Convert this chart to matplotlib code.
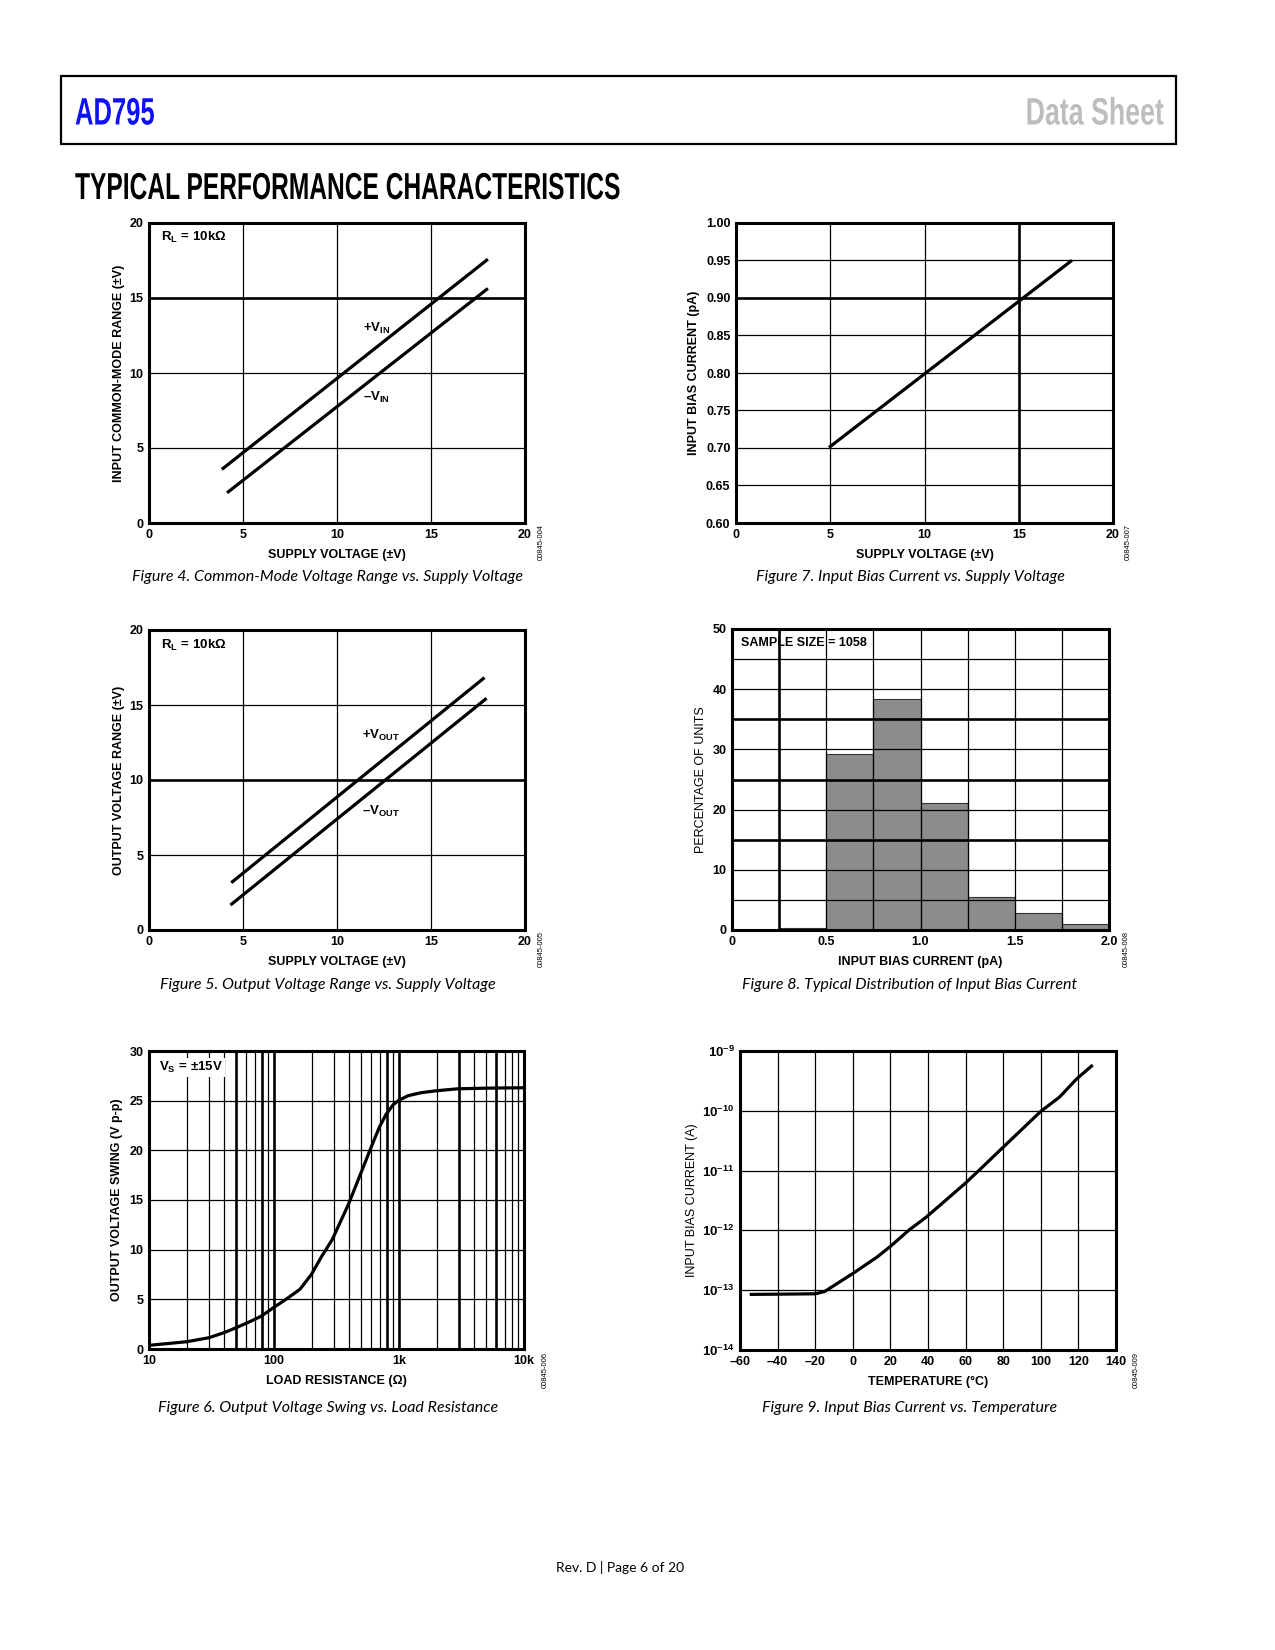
import numpy as np
import matplotlib
matplotlib.use("Agg")
import matplotlib.pyplot as plt
from matplotlib.patheffects import AbstractPathEffect
from matplotlib.transforms import Affine2D
from matplotlib.patches import Rectangle
from matplotlib.ticker import NullLocator

# ---------------- data ----------------
# Figure 4: common-mode range vs supply
f4_plus_x = [3.94, 17.96]
f4_plus_y = [3.64, 17.52]
f4_minus_x = [4.22, 17.96]
f4_minus_y = [2.08, 15.57]
# Figure 5: output voltage range vs supply
f5_plus_x = [4.44, 17.78]
f5_plus_y = [3.22, 16.76]
f5_minus_x = [4.40, 17.89]
f5_minus_y = [1.73, 15.38]
# Figure 6: output swing vs load resistance
f6_r = [10, 20, 30, 40, 51, 64, 79, 100, 123, 161, 199, 240, 292, 392, 510, 585, 695, 786, 899, 1000, 1184, 1500, 1996, 2978, 5808, 10000]
f6_v = [0.37, 0.73, 1.13, 1.65, 2.2, 2.75, 3.3, 4.2, 4.95, 6.0, 7.5, 9.3, 11.0, 14.5, 18.1, 20.0, 22.3, 23.6, 24.6, 25.05, 25.5, 25.8, 26.0, 26.2, 26.27, 26.3]
# Figure 7: input bias current vs supply
f7_x = [5.0, 17.76]
f7_y = [0.702, 0.949]
# Figure 8: histogram of input bias current
f8_left = [0.0, 0.25, 0.5, 0.75, 1.0, 1.25, 1.5, 1.75]
f8_pct = [0.0, 0.4, 29.3, 38.4, 21.1, 5.4, 2.8, 1.0]
# Figure 9: input bias current vs temperature
f9_t = [-54, -20, -15, 0, 13, 20, 30, 39, 60, 67, 79, 100, 110, 119, 127]
f9_i = [8.5e-14, 8.7e-14, 9.5e-14, 1.9e-13, 3.6e-13, 5.4e-13, 1.02e-12, 1.66e-12,
        6.2e-12, 1.0e-11, 2.3e-11, 9.8e-11, 1.7e-10, 3.4e-10, 5.6e-10]

# ---------------- style ----------------
W, H = 1275, 1650
plt.rcParams['font.family'] = ['Liberation Sans', 'DejaVu Sans']
plt.rcParams['mathtext.fontset'] = 'custom'
plt.rcParams['mathtext.rm'] = 'Liberation Sans'
plt.rcParams['mathtext.bf'] = 'Liberation Sans:bold'
plt.rcParams['mathtext.it'] = 'Liberation Sans:italic'
plt.rcParams['mathtext.default'] = 'bf'

THIN = 0.9
THICK = 1.9
FRAME = 2.2
DATA = 2.3
TICKFS = 9
LABFS = 9
ANNFS = 9.5
CAPFONT = ['Lato', 'DejaVu Sans']


class Condense(AbstractPathEffect):
    def __init__(self, sx, x0):
        super().__init__()
        self.sx = sx
        self.x0 = x0

    def draw_path(self, renderer, gc, tpath, affine, rgbFace=None):
        t = affine + Affine2D().translate(-self.x0, 0).scale(self.sx, 1).translate(self.x0, 0)
        renderer.draw_path(gc, tpath, t, rgbFace)


fig = plt.figure(figsize=(W / 100, H / 100), dpi=100)


def fx(x):
    return x / W


def fy(y):
    return 1 - y / H


def add_ax(x0, y0, x1, y1):
    ax = fig.add_axes([x0 / W, 1 - y1 / H, (x1 - x0) / W, (y1 - y0) / H])
    for s in ax.spines.values():
        s.set_linewidth(FRAME)
        s.set_zorder(5)
    ax.tick_params(length=0, pad=4, labelsize=TICKFS)
    return ax


def bold_ticks(ax):
    for lab in ax.get_xticklabels() + ax.get_yticklabels():
        lab.set_fontweight('bold')


def vgrid(ax, xs, thick=()):
    for x in xs:
        ax.axvline(x, color='black', lw=THICK if x in thick else THIN, zorder=3)


def hgrid(ax, ys, thick=()):
    for y in ys:
        ax.axhline(y, color='black', lw=THICK if y in thick else THIN, zorder=3)


def caption(xc, yc, s):
    fig.text(fx(xc), fy(yc), s, ha='center', va='center', fontsize=11.5,
             style='italic', family=CAPFONT)


def code(xc, ytop, s):
    fig.text(fx(xc), fy(ytop), s, rotation=90, ha='center', va='top', fontsize=5.5)


# ---------------- header ----------------
fig.add_artist(Rectangle((fx(61), fy(144)), fx(1176) - fx(61), fy(76) - fy(144),
                         transform=fig.transFigure, fill=False, lw=1.6, ec='black'))
fig.text(fx(75), fy(124.5), 'AD795', color='#1010F5', fontsize=27.5, fontweight='bold',
         ha='left', va='baseline', path_effects=[Condense(0.67, 75)])
fig.text(fx(1164), fy(124.5), 'Data Sheet', color='#BDBDBD', fontsize=27.5, fontweight='bold',
         ha='right', va='baseline', path_effects=[Condense(0.70, 1164)])
fig.text(fx(75), fy(199), 'TYPICAL PERFORMANCE CHARACTERISTICS', color='black', fontsize=27,
         fontweight='bold', ha='left', va='baseline', path_effects=[Condense(0.655, 75)])

RL_TEXT = '$R_L\\,=\\,10k\\Omega$'
VS_TEXT = '$V_S\\,=\\,{\\pm}15V$'

# ---------------- Figure 4 ----------------
ax = add_ax(149, 223, 525, 523)
ax.set_xlim(0, 20)
ax.set_ylim(0, 20)
ax.set_xticks([0, 5, 10, 15, 20])
ax.set_yticks([0, 5, 10, 15, 20])
vgrid(ax, [5, 10, 15])
hgrid(ax, [5, 10, 15], thick=(15,))
ax.plot(f4_plus_x, f4_plus_y, color='black', lw=DATA, zorder=4)
ax.plot(f4_minus_x, f4_minus_y, color='black', lw=DATA, zorder=4)
ax.text(11.4, 12.97, '${+}V_{IN}$', fontsize=ANNFS, ha='left', va='center', zorder=6)
ax.text(11.4, 8.38, '$\u2013V_{IN}$', fontsize=ANNFS, ha='left', va='center', zorder=6)
ax.text(0.033, 0.951, RL_TEXT, transform=ax.transAxes, fontsize=ANNFS,
        ha='left', va='center', zorder=6)
ax.set_xlabel('SUPPLY VOLTAGE (\u00b1V)', fontsize=LABFS, fontweight='bold', labelpad=6)
ax.set_ylabel('INPUT COMMON-MODE RANGE (\u00b1V)', fontsize=LABFS, fontweight='bold', labelpad=3)
bold_ticks(ax)
code(541, 524, '00845-004')
caption(328, 577, 'Figure 4. Common-Mode Voltage Range vs. Supply Voltage')

# ---------------- Figure 7 ----------------
ax = add_ax(736, 223, 1113, 523)
ax.set_xlim(0, 20)
ax.set_ylim(0.60, 1.00)
ax.set_xticks([0, 5, 10, 15, 20])
ax.set_yticks([0.60, 0.65, 0.70, 0.75, 0.80, 0.85, 0.90, 0.95, 1.00])
ax.set_yticklabels(['0.60', '0.65', '0.70', '0.75', '0.80', '0.85', '0.90', '0.95', '1.00'])
vgrid(ax, [5, 10, 15], thick=(15,))
hgrid(ax, [0.65, 0.70, 0.75, 0.80, 0.85, 0.90, 0.95], thick=(0.90,))
ax.plot(f7_x, f7_y, color='black', lw=DATA, zorder=4)
ax.set_xlabel('SUPPLY VOLTAGE (\u00b1V)', fontsize=LABFS, fontweight='bold', labelpad=6)
ax.set_ylabel('INPUT BIAS CURRENT (pA)', fontsize=LABFS, fontweight='bold', labelpad=4)
bold_ticks(ax)
code(1128, 524, '00845-007')
caption(910, 577, 'Figure 7. Input Bias Current vs. Supply Voltage')

# ---------------- Figure 5 ----------------
ax = add_ax(149, 630, 525, 930)
ax.set_xlim(0, 20)
ax.set_ylim(0, 20)
ax.set_xticks([0, 5, 10, 15, 20])
ax.set_yticks([0, 5, 10, 15, 20])
vgrid(ax, [5, 10, 15])
hgrid(ax, [5, 10, 15], thick=(10,))
ax.plot(f5_plus_x, f5_plus_y, color='black', lw=DATA, zorder=4)
ax.plot(f5_minus_x, f5_minus_y, color='black', lw=DATA, zorder=4)
ax.text(11.32, 12.96, '${+}V_{OUT}$', fontsize=ANNFS, ha='left', va='center', zorder=6)
ax.text(11.32, 7.89, '$\u2013V_{OUT}$', fontsize=ANNFS, ha='left', va='center', zorder=6)
ax.text(0.033, 0.95, RL_TEXT, transform=ax.transAxes, fontsize=ANNFS,
        ha='left', va='center', zorder=6)
ax.set_xlabel('SUPPLY VOLTAGE (\u00b1V)', fontsize=LABFS, fontweight='bold', labelpad=6)
ax.set_ylabel('OUTPUT VOLTAGE RANGE (\u00b1V)', fontsize=LABFS, fontweight='bold', labelpad=3)
bold_ticks(ax)
code(541, 931, '00845-005')
caption(328, 985, 'Figure 5. Output Voltage Range vs. Supply Voltage')

# ---------------- Figure 8 ----------------
ax = add_ax(732, 629, 1109, 930)
ax.set_xlim(0, 2.0)
ax.set_ylim(0, 50)
ax.set_xticks([0, 0.5, 1.0, 1.5, 2.0])
ax.set_xticklabels(['0', '0.5', '1.0', '1.5', '2.0'])
ax.set_yticks([0, 10, 20, 30, 40, 50])
ax.bar(f8_left, f8_pct, width=0.25, align='edge', color='#8C8C8C', edgecolor='#333333',
       lw=0.8, zorder=2)
vgrid(ax, [0.25, 0.5, 0.75, 1.0, 1.25, 1.5, 1.75], thick=(0.25,))
hgrid(ax, [5, 10, 15, 20, 25, 30, 35, 40, 45], thick=(15, 25, 35))
ax.text(0.024, 0.953, 'SAMPLE SIZE = 1058', transform=ax.transAxes, fontsize=9,
        fontweight='bold', ha='left', va='center', zorder=6)
ax.set_xlabel('INPUT BIAS CURRENT (pA)', fontsize=LABFS, fontweight='bold', labelpad=6)
ax.set_ylabel('PERCENTAGE OF UNITS', fontsize=LABFS, labelpad=4)
bold_ticks(ax)
code(1126, 931, '00845-008')
caption(910, 985, 'Figure 8. Typical Distribution of Input Bias Current')

# ---------------- Figure 6 ----------------
ax = add_ax(149, 1051, 524, 1349)
ax.set_xscale('log')
ax.set_xlim(10, 10000)
ax.set_ylim(0, 30)
ax.set_xticks([10, 100, 1000, 10000])
ax.set_xticklabels(['10', '100', '1k', '10k'])
ax.xaxis.set_minor_locator(NullLocator())
ax.set_yticks([0, 5, 10, 15, 20, 25, 30])
f6_grid = [k * d for d in (10, 100, 1000) for k in range(2, 10)] + [100, 1000]
vgrid(ax, f6_grid, thick=(50, 80, 100, 800, 1000, 3000, 6000))
hgrid(ax, [5, 10, 15, 20, 25])
ax.plot(f6_r, f6_v, color='black', lw=DATA, zorder=4, solid_joinstyle='round')
ax.text(0.026, 0.946, VS_TEXT, transform=ax.transAxes, fontsize=ANNFS,
        ha='left', va='center', zorder=6,
        bbox=dict(boxstyle='square,pad=0.15', fc='white', ec='none'))
ax.set_xlabel('LOAD RESISTANCE (\u03a9)', fontsize=LABFS, fontweight='bold', labelpad=6)
ax.set_ylabel('OUTPUT VOLTAGE SWING (V p-p)', fontsize=LABFS, fontweight='bold', labelpad=5)
bold_ticks(ax)
code(545, 1352, '00845-006')
caption(328, 1408, 'Figure 6. Output Voltage Swing vs. Load Resistance')

# ---------------- Figure 9 ----------------
ax = add_ax(740, 1051, 1116, 1350)
ax.set_yscale('log')
ax.set_xlim(-60, 140)
ax.set_ylim(1e-14, 1e-9)
ax.set_xticks(list(range(-60, 141, 20)))
ax.set_xticklabels([('\u2013' + str(-v)) if v < 0 else str(v) for v in range(-60, 141, 20)])
ax.set_yticks([1e-14, 1e-13, 1e-12, 1e-11, 1e-10, 1e-9])
ax.set_yticklabels(['$10^{\u2013%d}$' % e for e in (14, 13, 12, 11, 10, 9)])
ax.yaxis.set_minor_locator(NullLocator())
vgrid(ax, list(range(-40, 121, 20)))
hgrid(ax, [1e-13, 1e-12, 1e-11, 1e-10])
ax.plot(f9_t, f9_i, color='black', lw=DATA, zorder=4, solid_joinstyle='round')
ax.set_xlabel('TEMPERATURE (\u00b0C)', fontsize=LABFS, fontweight='bold', labelpad=6)
ax.set_ylabel('INPUT BIAS CURRENT (A)', fontsize=LABFS, labelpad=3)
bold_ticks(ax)
for lab in ax.get_yticklabels():
    lab.set_fontsize(9.5)
code(1136, 1352, '00845-009')
caption(910, 1408, 'Figure 9. Input Bias Current vs. Temperature')

# ---------------- footer ----------------
fig.text(fx(620), fy(1567), 'Rev. D | Page 6 of 20', ha='center', va='center',
         fontsize=10, family=CAPFONT)

fig.savefig('out.png', dpi=100)
